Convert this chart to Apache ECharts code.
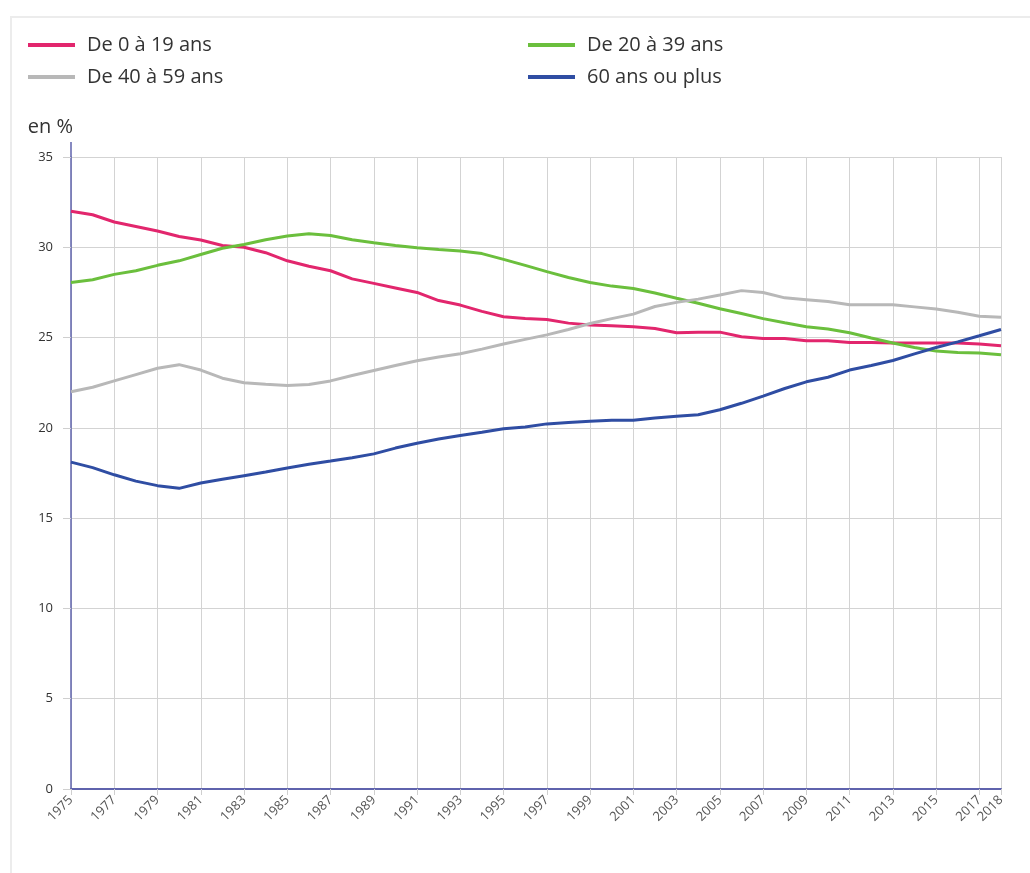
<!DOCTYPE html>
<html lang="fr">
<head>
<meta charset="utf-8">
<title>Répartition de la population par tranche d'âge</title>
<script src="https://cdn.jsdelivr.net/npm/echarts@6/dist/echarts.min.js"></script>
<style>
  html, body { margin: 0; padding: 0; background: #fff; }
  #frame { position: absolute; left: 10px; top: 16px; width: 1040px; height: 900px;
           border: 2px solid #ececec; box-sizing: border-box; }
  #chart { position: absolute; left: 0; top: 0; width: 1030px; height: 873px; }
</style>
</head>
<body>
<div id="frame"></div>
<div id="chart"></div>
<script>
// Years on the horizontal axis
const years = [];
for (let y = 1975; y <= 2018; y++) years.push(String(y));

// Share of the population by age group, in %
const age0to19 = [32.0, 31.8, 31.4, 31.15, 30.9, 30.6, 30.4, 30.1, 30.0, 29.7,
  29.25, 28.95, 28.7, 28.25, 28.0, 27.75, 27.5, 27.05, 26.8, 26.45,
  26.15, 26.05, 26.0, 25.8, 25.7, 25.65, 25.6, 25.5, 25.27, 25.3,
  25.3, 25.05, 24.95, 24.95, 24.83, 24.82, 24.73, 24.73, 24.7, 24.7,
  24.7, 24.7, 24.64, 24.55];

const age20to39 = [28.05, 28.2, 28.5, 28.7, 29.0, 29.25, 29.6, 29.95, 30.15, 30.42,
  30.62, 30.75, 30.65, 30.42, 30.25, 30.1, 29.97, 29.88, 29.8, 29.65,
  29.33, 29.0, 28.65, 28.33, 28.05, 27.85, 27.72, 27.47, 27.18, 26.9,
  26.6, 26.33, 26.05, 25.82, 25.6, 25.48, 25.27, 24.98, 24.7, 24.45,
  24.25, 24.18, 24.15, 24.05];

const age40to59 = [22.0, 22.25, 22.6, 22.95, 23.3, 23.5, 23.2, 22.75, 22.5, 22.42,
  22.35, 22.4, 22.6, 22.9, 23.18, 23.45, 23.72, 23.92, 24.1, 24.36,
  24.64, 24.9, 25.15, 25.45, 25.78, 26.05, 26.3, 26.72, 26.95, 27.13,
  27.36, 27.6, 27.5, 27.2, 27.1, 27.0, 26.82, 26.82, 26.82, 26.7,
  26.58, 26.4, 26.18, 26.13];

const age60plus = [18.1, 17.8, 17.4, 17.05, 16.8, 16.65, 16.95, 17.15, 17.35, 17.55,
  17.78, 17.98, 18.16, 18.35, 18.56, 18.88, 19.15, 19.38, 19.58, 19.76,
  19.95, 20.05, 20.22, 20.3, 20.36, 20.42, 20.42, 20.55, 20.64, 20.73,
  21.0, 21.36, 21.76, 22.18, 22.55, 22.8, 23.2, 23.45, 23.73, 24.1,
  24.45, 24.76, 25.1, 25.45];

// Y-axis tick settings
const yMin = 0, yMax = 35, yStep = 5;

const seriesNames = ['De 0 à 19 ans', 'De 20 à 39 ans', 'De 40 à 59 ans', '60 ans ou plus'];
const seriesColors = ['#e2266d', '#6bbf3d', '#b8b8b8', '#2f4da3'];
const seriesData = [age0to19, age20to39, age40to59, age60plus];

const FONT = '"Open Sans", "Noto Sans", sans-serif';
const axisBlue = '#5f63ad';
const gridGrey = '#d3d3d3';

// Show every second year plus the last one
const everyOtherYear = (index) => index % 2 === 0 || index === years.length - 1;

const legendCommon = {
  orient: 'vertical',
  top: 35,
  padding: 0,
  itemWidth: 47,
  itemHeight: 4,
  itemGap: 12,
  icon: 'rect',
  textStyle: { fontFamily: FONT, fontSize: 20, color: '#333', padding: [0, 0, 0, 7] }
};

const option = {
  animation: false,
  textStyle: { fontFamily: FONT },
  legend: [
    Object.assign({}, legendCommon, { left: 28, data: [seriesNames[0], seriesNames[2]] }),
    Object.assign({}, legendCommon, { left: 528, data: [seriesNames[1], seriesNames[3]] })
  ],
  grid: { left: 71, right: 29, top: 157, bottom: 84, containLabel: false },
  xAxis: {
    type: 'category',
    data: years,
    boundaryGap: false,
    axisLine: { show: true, lineStyle: { color: axisBlue, width: 2 } },
    axisTick: { show: true, interval: everyOtherYear, length: 6, lineStyle: { color: '#cfcfcf' } },
    axisLabel: {
      interval: everyOtherYear,
      rotate: 45,
      fontSize: 13,
      color: '#555',
      margin: 9,
      fontFamily: FONT
    },
    splitLine: { show: true, interval: everyOtherYear, lineStyle: { color: gridGrey, width: 1 } }
  },
  yAxis: {
    type: 'value',
    min: yMin,
    max: yMax,
    interval: yStep,
    name: 'en %',
    nameLocation: 'end',
    nameGap: 20,
    nameTextStyle: { fontFamily: FONT, fontSize: 20, color: '#333', align: 'right', padding: [0, -2, 0, 0] },
    axisLine: { show: true, lineStyle: { color: axisBlue, width: 1.5 } },
    axisTick: { show: true, length: 8, lineStyle: { color: '#cfcfcf' } },
    axisLabel: { fontSize: 13, color: '#333', margin: 18, fontFamily: FONT },
    splitLine: { show: true, lineStyle: { color: gridGrey, width: 1 } }
  },
  series: seriesNames.map((name, i) => ({
    name: name,
    type: 'line',
    data: seriesData[i],
    showSymbol: false,
    symbol: 'none',
    color: seriesColors[i],
    lineStyle: { width: 3, color: seriesColors[i] }
  }))
};

const chart = echarts.init(document.getElementById('chart'), null, { renderer: 'canvas' });
chart.setOption(option);

// The vertical axis line runs a little past the top tick
const topPt = chart.convertToPixel({ gridIndex: 0 }, [years[0], yMax]);
chart.setOption({
  graphic: [{
    type: 'line',
    shape: { x1: topPt[0], y1: topPt[1] - 15, x2: topPt[0], y2: topPt[1] },
    style: { stroke: axisBlue, lineWidth: 1.5 },
    silent: true
  }]
});
</script>
</body>
</html>
